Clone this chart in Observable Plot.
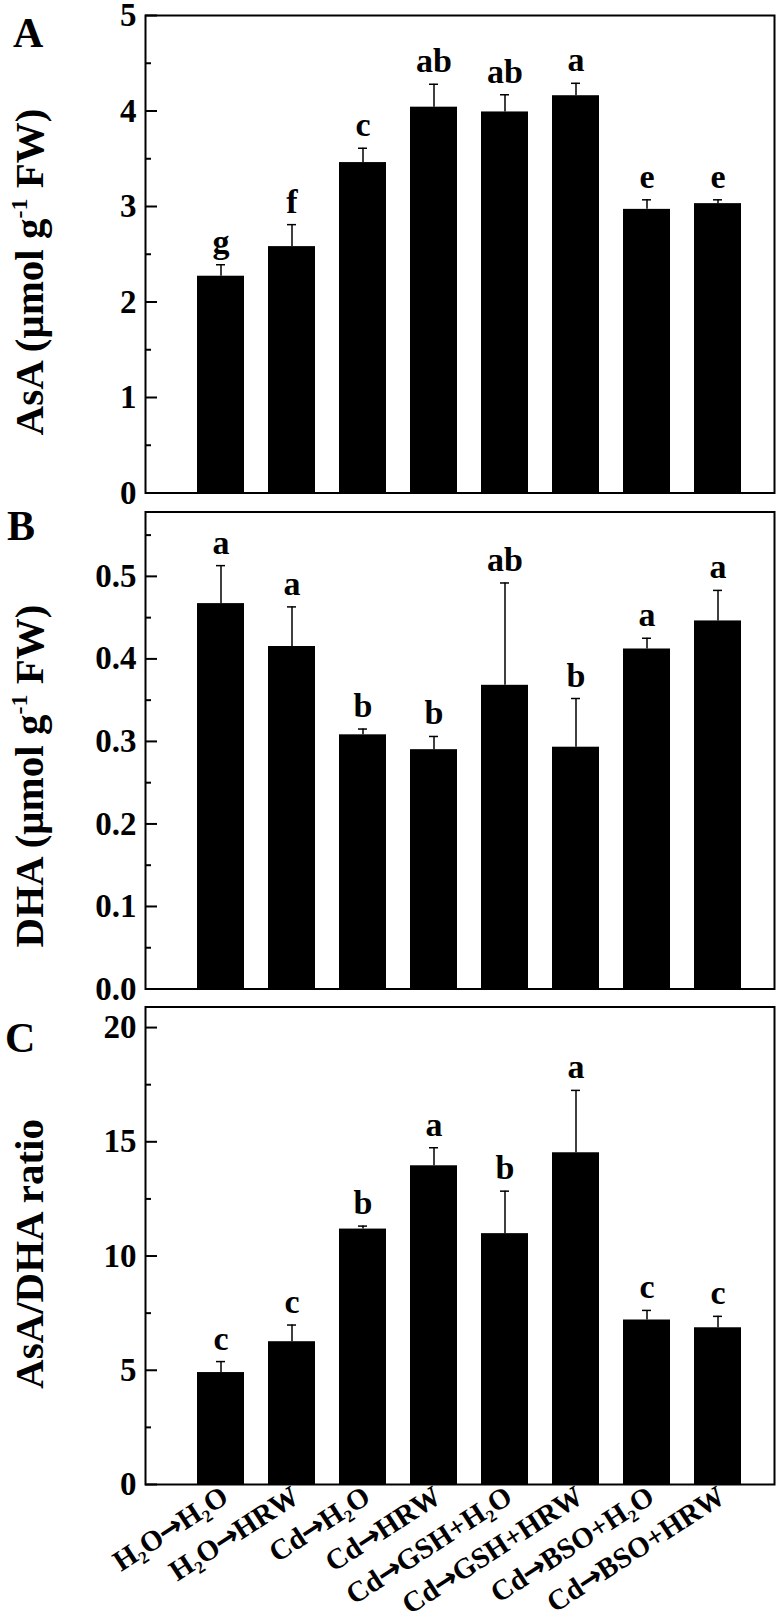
<!DOCTYPE html>
<html>
<head>
<meta charset="utf-8">
<script src="https://cdn.jsdelivr.net/npm/d3@7"></script>
<script src="https://cdn.jsdelivr.net/npm/@observablehq/plot@0.6"></script>
<style>
  html, body { margin: 0; padding: 0; background: #fff; }
  #wrap { width: 780px; }
  #wrap svg { display: block; }
</style>
</head>
<body>
<div id="wrap"></div>
<script>
// ---- data ----
const categories = ["H₂O→H₂O", "H₂O→HRW", "Cd→H₂O", "Cd→HRW", "Cd→GSH+H₂O", "Cd→GSH+HRW", "Cd→BSO+H₂O", "Cd→BSO+HRW"];

const asaMean = [2.27, 2.58, 3.46, 4.04, 3.99, 4.16, 2.97, 3.03];
const asaErr = [0.12, 0.23, 0.15, 0.24, 0.18, 0.13, 0.10, 0.04];
const asaLetters = ["g", "f", "c", "ab", "ab", "a", "e", "e"];

const dhaMean = [0.467, 0.415, 0.308, 0.290, 0.368, 0.293, 0.412, 0.446];
const dhaErr = [0.046, 0.048, 0.007, 0.016, 0.124, 0.059, 0.013, 0.037];
const dhaLetters = ["a", "a", "b", "b", "ab", "b", "a", "a"];

const ratioMean = [4.90, 6.25, 11.18, 13.95, 10.98, 14.52, 7.20, 6.86];
const ratioErr = [0.48, 0.73, 0.13, 0.79, 1.86, 2.73, 0.42, 0.50];
const ratioLetters = ["c", "c", "b", "a", "b", "a", "c", "c"];

const asaTicks = [0, 1, 2, 3, 4, 5];
const asaMinor = [0.5, 1.5, 2.5, 3.5, 4.5];
const dhaTicks = [0, 0.1, 0.2, 0.3, 0.4, 0.5];
const dhaMinor = [0.05, 0.15, 0.25, 0.35, 0.45, 0.55];
const ratioTicks = [0, 5, 10, 15, 20];
const ratioMinor = [2.5, 7.5, 12.5, 17.5];

const panelLetters = ["A", "B", "C"];
const yLabels = [
  ["AsA (μmol g", "-1", " FW)"],
  ["DHA (μmol g", "-1", " FW)"],
  ["AsA/DHA ratio"]
];

// ---- drawing ----
const FONT = '"Liberation Serif", "Times New Roman", Times, serif';

function panel({mean, err, letters, domain, ticks, minor, fmt, height, mt, mb, showX}) {
  const data = categories.map((c, i) => ({cat: c, mean: mean[i], top: mean[i] + err[i], letter: letters[i]}));
  const marks = [
    Plot.barY(data, {x: "cat", y: "mean", fill: "black"}),
    Plot.ruleX(data, {x: "cat", y1: "mean", y2: "top", stroke: "black", strokeWidth: 1.5}),
    Plot.tickY(data, {x: "cat", y: "top", insetLeft: 19, insetRight: 19, stroke: "black", strokeWidth: 1.5}),
    Plot.text(data, {x: "cat", y: "top", text: "letter", dy: -12, lineAnchor: "bottom", fontSize: 34, fontWeight: "bold"}),
    Plot.axisY(ticks, {tickSize: 12, dx: 12, tickFormat: () => "", strokeWidth: 2, label: null}),
    Plot.axisY(minor, {tickSize: 6, dx: 6, tickFormat: () => "", strokeWidth: 2, label: null}),
    Plot.axisY(ticks, {tickSize: 0, tickPadding: 9, tickFormat: fmt, fontSize: 33, fontWeight: "bold", label: null}),
    Plot.frame({stroke: "black", strokeWidth: 2})
  ];
  if (showX) {
    marks.push(Plot.axisX({tickSize: 0, tickRotate: -33, tickPadding: 9, dx: 4, fontSize: 29, fontWeight: "bold", label: null}));
  }
  return Plot.plot({
    width: 780,
    height,
    marginTop: mt,
    marginBottom: mb,
    marginLeft: 145,
    marginRight: 6,
    style: {fontFamily: FONT, fontWeight: "bold", fontSize: "32px", color: "black", background: "white", overflow: "visible"},
    x: {type: "band", domain: categories, range: [181.65, 755.35], paddingInner: 0.3446, paddingOuter: 0.1723, label: null, ...(showX ? {} : {axis: null})},
    y: {domain, label: null},
    marks
  });
}

function decorate(svgEl, letter, letterX, letterY, parts, cy) {
  const s = d3.select(svgEl);
  s.append("text")
    .attr("x", letterX).attr("y", letterY)
    .attr("text-anchor", "start")
    .attr("font-family", FONT).attr("font-weight", "bold").attr("font-size", 42)
    .attr("fill", "black")
    .text(letter);
  const t = s.append("text")
    .attr("transform", `translate(43,${cy}) rotate(-90)`)
    .attr("text-anchor", "middle")
    .attr("font-family", FONT).attr("font-weight", "bold").attr("font-size", 41)
    .attr("fill", "black");
  t.append("tspan").text(parts[0]);
  if (parts.length > 1) {
    t.append("tspan").attr("font-size", 24).attr("dy", -16).text(parts[1]);
    t.append("tspan").attr("dy", 16).text(parts[2]);
  }
}

function styleArrows(svgEl) {
  d3.select(svgEl).selectAll('g[aria-label="x-axis tick label"] text').each(function () {
    const s = this.textContent;
    const i = s.indexOf("→");
    if (i < 0) return;
    const el = d3.select(this);
    el.text(null);
    el.append("tspan").text(s.slice(0, i));
    el.append("tspan").attr("dx", -1).attr("font-family", '"DejaVu Sans", sans-serif').attr("font-weight", "bold").text("→");
    el.append("tspan").attr("dx", -1).text(s.slice(i + 1));
  });
}

const wrap = document.getElementById("wrap");

const A = panel({mean: asaMean, err: asaErr, letters: asaLetters, domain: [0, 5], ticks: asaTicks, minor: asaMinor,
  fmt: d => String(d), height: 502, mt: 15, mb: 9.5, showX: false});
decorate(A, panelLetters[0], 13, 47, yLabels[0], 272);
wrap.appendChild(A);

const B = panel({mean: dhaMean, err: dhaErr, letters: dhaLetters, domain: [0, 0.578], ticks: dhaTicks, minor: dhaMinor,
  fmt: d => d.toFixed(1), height: 496, mt: 9.5, mb: 9.5, showX: false});
decorate(B, panelLetters[1], 7, 38, yLabels[1], 274);
wrap.appendChild(B);

const C = panel({mean: ratioMean, err: ratioErr, letters: ratioLetters, domain: [0, 20.9], ticks: ratioTicks, minor: ratioMinor,
  fmt: d => String(d), height: 621, mt: 8.5, mb: 135, showX: true});
decorate(C, panelLetters[2], 5, 54, yLabels[2], 256);
styleArrows(C);
wrap.appendChild(C);
</script>
</body>
</html>
